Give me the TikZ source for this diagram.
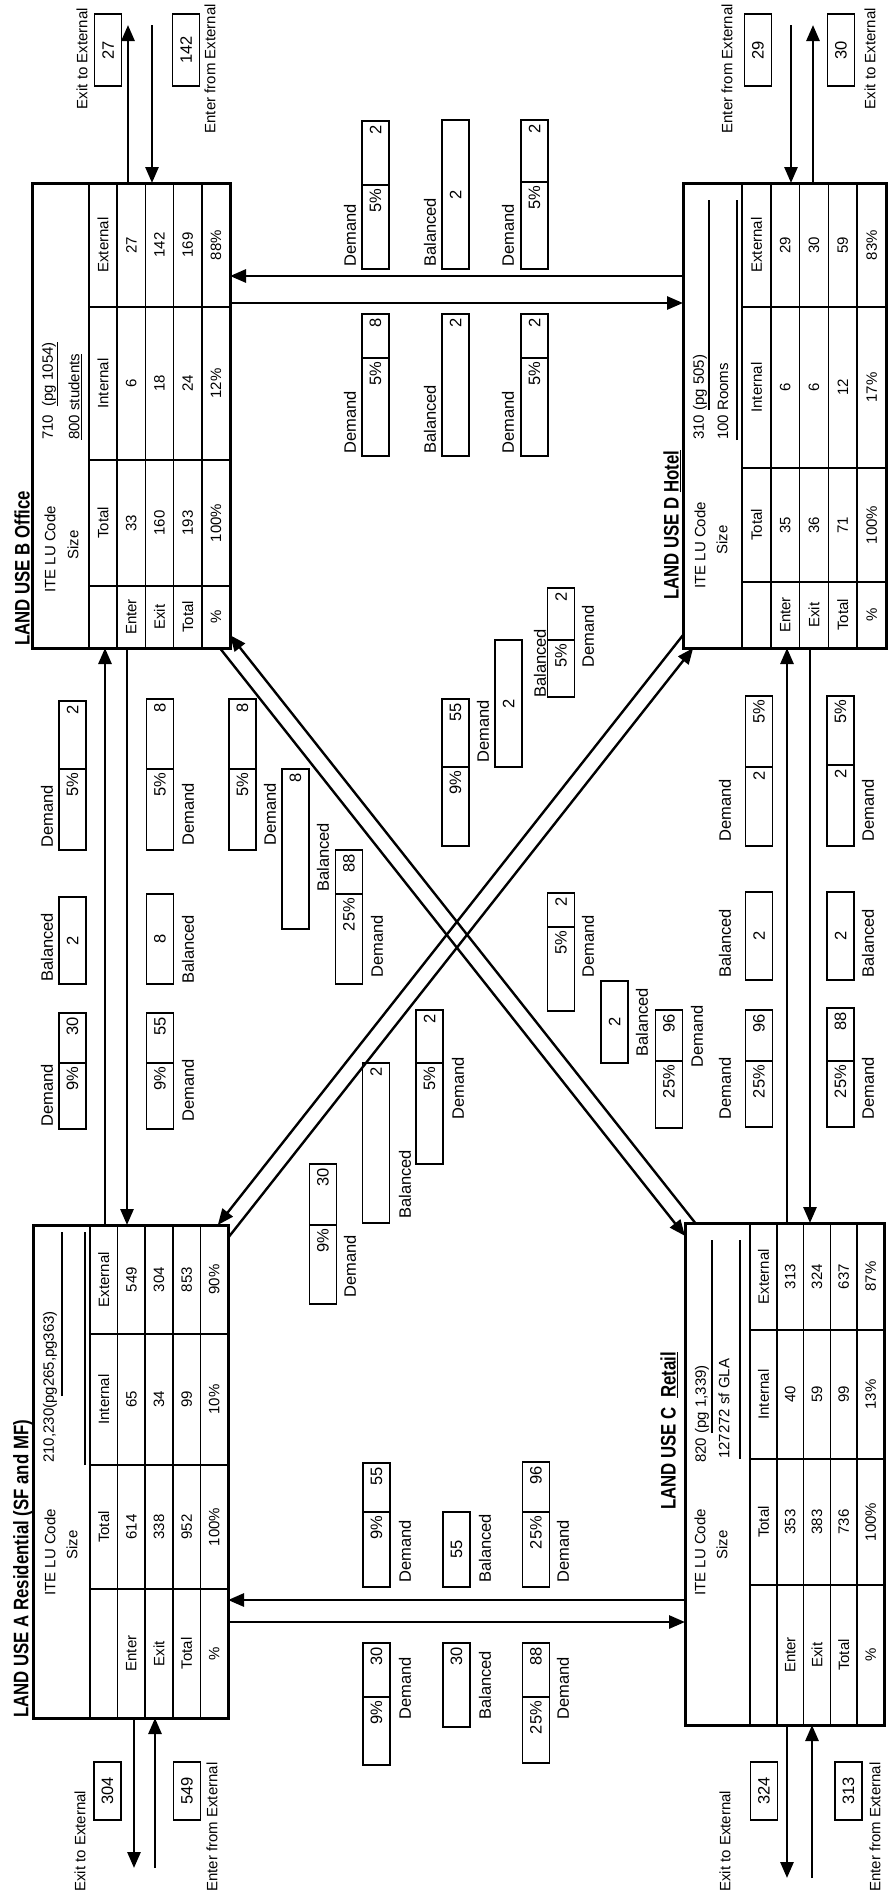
\documentclass[tikz,border=0pt]{standalone}
\usepackage{fontspec}
\setmainfont{Liberation Sans}
\newfontfamily\titlefont{Liberation Sans Bold}[FakeStretch=0.8]
\usetikzlibrary{arrows.meta}
\newcommand{\fsz}{\fontsize{15}{16}\selectfont}
\newcommand{\bsz}{\fontsize{16.5}{17}\selectfont}
\newcommand{\ttsz}{\titlefont\fontsize{21}{23}\selectfont}
\tikzset{
  txt/.style={rotate=90, inner sep=0pt, font=\fsz},
  btxt/.style={rotate=90, inner sep=0pt, font=\bsz},
  ttl/.style={rotate=90, inner sep=0pt, font=\ttsz, anchor=west},
  gridl/.style={line width=1.5pt},
  tbl/.style={draw, line width=3pt, inner sep=0pt, outer sep=0pt},
  cell/.style={draw, line width=1.8pt, rotate=90, minimum height=27pt, inner xsep=4pt, inner ysep=0pt, font=\bsz},
  ulin/.style={line width=1.3pt},
  arr/.style={line width=2.8pt, -{Triangle[length=16pt,width=13pt]}},
  darr/.style={line width=2.4pt, -{Triangle[length=16pt,width=13pt]}},
}
% \lutable{name}{L}{H}{R}{T}{c1}{c2}{c3}{B}
\newcommand{\lutable}[9]{%
  \pgfmathsetmacro{\tbW}{#4-#2}%
  \pgfmathsetmacro{\tbHt}{#9-#5}%
  \pgfmathsetmacro{\gH}{#3}%
  \pgfmathsetmacro{\grh}{(#4-#3)/5}%
  \pgfmathsetmacro{\gExt}{(#5+#6)/2}%
  \pgfmathsetmacro{\gInt}{(#6+#7)/2}%
  \pgfmathsetmacro{\gTot}{(#7+#8)/2}%
  \pgfmathsetmacro{\gLab}{(#8+#9)/2}%
  \foreach \kk in {0,...,4} {\draw[gridl] ({#3+\kk*\grh},{-#5}) -- ({#3+\kk*\grh},{-#9});}
  \foreach \colv in {#6,#7,#8} {\draw[gridl] (#3,{-\colv}) -- (#4,{-\colv});}
  \node[tbl, minimum width=\tbW pt, minimum height=\tbHt pt, anchor=north west] (#1) at (#2,{-#5}) {};
  \node[txt] (#1-hx) at ({#3+0.5*\grh},{-\gExt}) {External};
  \node[txt] (#1-hi) at ({#3+0.5*\grh},{-\gInt}) {Internal};
  \node[txt] (#1-ht) at ({#3+0.5*\grh},{-\gTot}) {Total};
}
\newcommand{\lurows}[2]{%
  \foreach \lbl/\va/\vb/\vc [count=\kk] in {#2} {
    \node[txt] (#1-l\kk) at ({\gH+(\kk+0.5)*\grh},{-\gLab}) {\lbl};
    \node[txt] (#1-t\kk) at ({\gH+(\kk+0.5)*\grh},{-\gTot}) {\va};
    \node[txt] (#1-i\kk) at ({\gH+(\kk+0.5)*\grh},{-\gInt}) {\vb};
    \node[txt] (#1-x\kk) at ({\gH+(\kk+0.5)*\grh},{-\gExt}) {\vc};
  }
}
% \tcell{name}{cx}{top}{bot}{text}{align}
\newcommand{\tcell}[6]{%
  \pgfmathsetmacro{\cL}{#4-#3}%
  \pgfmathsetmacro{\cT}{#4-#3-8}%
  \pgfmathsetmacro{\cM}{(#3+#4)/2}%
  \node[cell, minimum width=\cL pt, text width=\cT pt, align=#6] (#1) at (#2,{-\cM}) {#5};
}
% \dbox{name}{cx}{top}{div}{bot}{toptext}{bottext}
\newcommand{\dbox}[7]{\tcell{#1a}{#2}{#3}{#4}{#6}{right}\tcell{#1b}{#2}{#4}{#5}{#7}{right}}
% \blab{name}{fx}{fy start}{text}
\newcommand{\blab}[4]{\node[btxt, anchor=west] (#1) at (#2,{-#3}) {#4};}
\begin{document}
\begin{tikzpicture}[x=1pt,y=1pt]
\useasboundingbox (0,0) rectangle (891,-1896);
\fill[white] (0,0) rectangle (891,-1896);

% ================= tables
\lutable{A}{33}{90}{228}{1225}{1334}{1465}{1589}{1718}
\lurows{A}{Enter/614/65/549, Exit/338/34/304, Total/952/99/853, \%/100\%/10\%/90\%}
\node[ttl] (A-title) at (23,-1718) {LAND USE A Residential (SF and MF)};
\node[txt, anchor=west] (A-ite) at (50,-1596) {ITE LU Code};
\node[txt] (A-size) at (72,-1545) {Size};
\node[txt, anchor=west] (A-code) at (50,-1463) {210,230(pg265,pg363)};
\draw[ulin] (62,-1396) -- (62,-1232);
\draw[ulin] (85,-1465) -- (85,-1232);

\lutable{B}{32}{89}{230}{183}{307}{460}{586}{648}
\lurows{B}{Enter/33/6/27, Exit/160/18/142, Total/193/24/169, \%/100\%/12\%/88\%}
\node[ttl] (B-title) at (23,-646) {LAND USE B \underline{Office}};
\node[txt, anchor=west] (B-ite) at (50,-593) {ITE LU Code};
\node[txt] (B-size) at (73,-545) {Size};
\node[txt, anchor=west] (B-code) at (50,-440) {710\ \ \underline{(pg 1054)}};
\node[txt, anchor=west] (B-sz) at (75,-440) {\underline{800 students}};

\lutable{C}{685}{750}{884}{1223}{1330}{1459}{1585}{1725}
\lurows{C}{Enter/353/40/313, Exit/383/59/324, Total/736/99/637, \%/100\%/13\%/87\%}
\node[ttl] (C-title) at (669,-1510) {LAND USE C\ \ \underline{Retail}};
\node[txt, anchor=west] (C-ite) at (700,-1596) {ITE LU Code};
\node[txt] (C-size) at (722,-1545) {Size};
\node[txt, anchor=west] (C-code) at (702,-1463) {820 (pg 1,339)};
\node[txt, anchor=west] (C-sz) at (724,-1459) {127272 sf GLA};
\draw[ulin] (712,-1433) -- (712,-1240);
\draw[ulin] (740,-1459) -- (740,-1240);

\lutable{D}{683}{742}{886}{183}{307}{468}{582}{648}
\lurows{D}{Enter/35/6/29, Exit/36/6/30, Total/71/12/59, \%/100\%/17\%/83\%}
\node[ttl] (D-title) at (672,-600) {LAND USE D \underline{Hotel}};
\node[txt, anchor=west] (D-ite) at (700,-589) {ITE LU Code};
\node[txt] (D-size) at (722,-540) {Size};
\node[txt, anchor=west] (D-code) at (700,-440) {310 (pg 505)};
\node[txt, anchor=west] (D-sz) at (723,-440) {100 Rooms};
\draw[ulin] (709,-410) -- (709,-200);
\draw[ulin] (737,-440) -- (737,-200);

% ================= connectors between land uses
\coordinate (abUs) at (105,-1225); \coordinate (abUe) at (105,-648);
\coordinate (abDs) at (127,-648);  \coordinate (abDe) at (127,-1225);
\draw[arr] (abUs) -- (abUe);
\draw[arr] (abDs) -- (abDe);
\coordinate (cdUs) at (787,-1223); \coordinate (cdUe) at (787,-648);
\coordinate (cdDs) at (810,-648);  \coordinate (cdDe) at (810,-1223);
\draw[arr] (cdUs) -- (cdUe);
\draw[arr] (cdDs) -- (cdDe);
\coordinate (acLs) at (685,-1600); \coordinate (acLe) at (228,-1600);
\coordinate (acRs) at (228,-1622); \coordinate (acRe) at (685,-1622);
\draw[arr] (acLs) -- (acLe);
\draw[arr] (acRs) -- (acRe);
\coordinate (bdLs) at (683,-276); \coordinate (bdLe) at (230,-276);
\coordinate (bdRs) at (230,-303); \coordinate (bdRe) at (683,-303);
\draw[arr] (bdLs) -- (bdLe);
\draw[arr] (bdRs) -- (bdRe);
% diagonals
\coordinate (bc1s) at (695.3,-1223); \coordinate (bc1e) at (230,-635.1);
\coordinate (bc2s) at (219.8,-648);  \coordinate (bc2e) at (685,-1235.9);
\coordinate (ad1s) at (683,-635.1);  \coordinate (ad1e) at (217.8,-1225);
\coordinate (ad2s) at (228,-1237.9); \coordinate (ad2e) at (693.2,-648);
\draw[darr] (bc1s) -- (bc1e);
\draw[darr] (bc2s) -- (bc2e);
\draw[darr] (ad1s) -- (ad1e);
\draw[darr] (ad2s) -- (ad2e);

% ================= external trips
\coordinate (AxS) at (134,-1718); \coordinate (AxE) at (134,-1868);
\coordinate (AnS) at (155,-1868); \coordinate (AnE) at (155,-1718);
\draw[arr] (AxS) -- (AxE); \draw[arr] (AnS) -- (AnE);
\tcell{Aex}{107.5}{1762}{1820}{304}{center}
\tcell{Aen}{187}{1762}{1820}{549}{center}
\node[txt, anchor=west] (Aexl) at (80,-1892) {Exit to External};
\node[txt, anchor=west] (Aenl) at (212,-1892) {Enter from External};

\coordinate (CxS) at (787,-1725); \coordinate (CxE) at (787,-1878);
\coordinate (CnS) at (812,-1878); \coordinate (CnE) at (812,-1725);
\draw[arr] (CxS) -- (CxE); \draw[arr] (CnS) -- (CnE);
\tcell{Cex}{764}{1762}{1820}{324}{center}
\tcell{Cen}{848.5}{1762}{1820}{313}{center}
\node[txt, anchor=west] (Cexl) at (725,-1892) {Exit to External};
\node[txt, anchor=west] (Cenl) at (875,-1892) {Enter from External};

\coordinate (BxS) at (128,-183); \coordinate (BxE) at (128,-25);
\coordinate (BnS) at (152,-25);  \coordinate (BnE) at (152,-183);
\draw[arr] (BxS) -- (BxE); \draw[arr] (BnS) -- (BnE);
\tcell{Bex}{108}{14}{86}{27}{center}
\tcell{Ben}{186}{14}{86}{142}{center}
\node[txt, anchor=east] (Bexl) at (82,-8) {Exit to External};
\node[txt, anchor=east] (Benl) at (210,-4) {Enter from External};

\coordinate (DnS) at (791,-25);  \coordinate (DnE) at (791,-183);
\coordinate (DxS) at (813,-183); \coordinate (DxE) at (813,-25);
\draw[arr] (DnS) -- (DnE); \draw[arr] (DxS) -- (DxE);
\tcell{Den}{758}{14}{86}{29}{center}
\tcell{Dex}{841}{14}{86}{30}{center}
\node[txt, anchor=east] (Denl) at (727,-4) {Enter from External};
\node[txt, anchor=east] (Dexl) at (870,-8) {Exit to External};

% ================= A-B boxes
\dbox{ab1}{72.5}{701}{769}{850}{2}{5\%}   \blab{ab1l}{47}{848}{Demand}
\tcell{ab2}{72.5}{897}{984}{2}{center}    \blab{ab2l}{47}{982}{Balanced}
\dbox{ab3}{72.5}{1013}{1063}{1129}{30}{9\%} \blab{ab3l}{47}{1127}{Demand}
\dbox{ab4}{160}{699}{769}{850}{8}{5\%}    \blab{ab4l}{188}{846}{Demand}
\tcell{ab5}{160}{894}{984}{8}{center}     \blab{ab5l}{188}{984}{Balanced}
\dbox{ab6}{160}{1013}{1063}{1129}{55}{9\%} \blab{ab6l}{188}{1122}{Demand}

% ================= B-D boxes
\dbox{bd1}{375.5}{121}{185}{269}{2}{5\%}  \blab{bd1l}{350}{267}{Demand}
\dbox{bd2}{375.5}{314}{358}{456}{8}{5\%}  \blab{bd2l}{350}{454}{Demand}
\tcell{bd3}{455.5}{120}{269}{2}{center}   \blab{bd3l}{430}{267}{Balanced}
\tcell{bd4}{455.5}{314}{456}{2}{right}    \blab{bd4l}{430}{454}{Balanced}
\dbox{bd5}{534.5}{120}{182}{269}{2}{5\%}  \blab{bd5l}{508}{267}{Demand}
\dbox{bd6}{534.5}{314}{358}{456}{2}{5\%}  \blab{bd6l}{508}{454}{Demand}

% ================= A-C boxes
\dbox{ac1}{376.5}{1463}{1512}{1587}{55}{9\%} \blab{ac1l}{405}{1583}{Demand}
\dbox{ac2}{376.5}{1643}{1697}{1765}{30}{9\%} \blab{ac2l}{405}{1720}{Demand}
\tcell{ac3}{456.5}{1512}{1587}{55}{center}   \blab{ac3l}{485}{1583}{Balanced}
\tcell{ac4}{456.5}{1643}{1727}{30}{right}    \blab{ac4l}{485}{1720}{Balanced}
\dbox{ac5}{536}{1462}{1512}{1587}{96}{25\%}  \blab{ac5l}{563}{1583}{Demand}
\dbox{ac6}{536}{1643}{1697}{1763}{88}{25\%}  \blab{ac6l}{563}{1720}{Demand}

% ================= C-D boxes
\dbox{cd1}{759}{696}{767}{846}{5\%}{2}       \blab{cd1l}{725}{842}{Demand}
\tcell{cd2}{759}{892}{980}{2}{center}        \blab{cd2l}{725}{978}{Balanced}
\dbox{cd3}{759}{1010}{1061}{1127}{96}{25\%}  \blab{cd3l}{725}{1120}{Demand}
\dbox{cd4}{840.5}{696}{765}{846}{5\%}{2}     \blab{cd4l}{868}{842}{Demand}
\tcell{cd5}{840.5}{892}{980}{2}{center}      \blab{cd5l}{868}{978}{Balanced}
\dbox{cd6}{840.5}{1008}{1061}{1127}{88}{25\%} \blab{cd6l}{868}{1120}{Demand}

% ================= diagonal boxes
\dbox{g1a}{242.5}{699}{769}{850}{8}{5\%}     \blab{g1al}{270}{846}{Demand}
\tcell{g1b}{295.5}{769}{929}{8}{right}       \blab{g1bl}{323}{892}{Balanced}
\dbox{g1c}{349}{850}{894}{984}{88}{25\%}     \blab{g1cl}{377}{978}{Demand}

\dbox{g2a}{323}{1164}{1225}{1304}{30}{9\%}   \blab{g2al}{350}{1298}{Demand}
\tcell{g2b}{376}{1063}{1223}{2}{right}       \blab{g2bl}{405}{1219}{Balanced}
\dbox{g2c}{429.5}{1010}{1063}{1164}{2}{5\%}  \blab{g2cl}{458}{1120}{Demand}

\dbox{g3a}{455.5}{699}{767}{846}{55}{9\%}    \blab{g3al}{483}{763}{Demand}
\tcell{g3b}{508.5}{640}{767}{2}{center}      \blab{g3bl}{540}{698}{Balanced}
\dbox{g3c}{561}{588}{640}{697}{2}{5\%}       \blab{g3cl}{588}{668}{Demand}

\dbox{g4a}{561}{893}{927}{1011}{2}{5\%}      \blab{g4al}{588}{978}{Demand}
\tcell{g4b}{614.5}{981}{1063}{2}{center}     \blab{g4bl}{642}{1057}{Balanced}
\dbox{g4c}{669}{1010}{1061}{1128}{96}{25\%}  \blab{g4cl}{697}{1068}{Demand}
\end{tikzpicture}
\end{document}
